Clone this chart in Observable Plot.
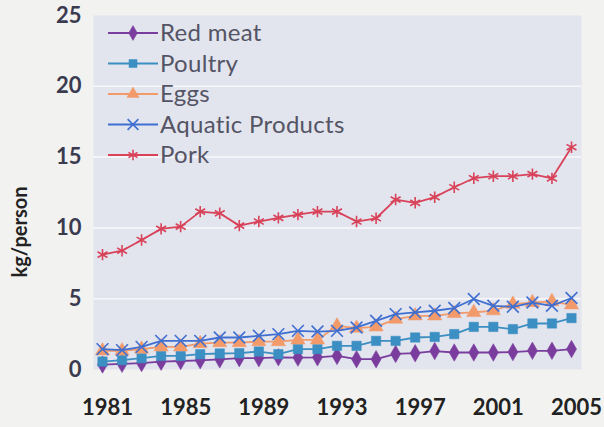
<!DOCTYPE html>
<html><head><meta charset="utf-8">
<script src="https://cdn.jsdelivr.net/npm/d3@7"></script>
<script src="https://cdn.jsdelivr.net/npm/@observablehq/plot@0.6"></script>
<style>
body{margin:0;background:#f2f2f1;}
#chart svg{display:block;}
</style>
</head><body><div id="chart"></div>
<script>
const years = [1981,1982,1983,1984,1985,1986,1987,1988,1989,1990,1991,1992,1993,1994,1995,1996,1997,1998,1999,2000,2001,2002,2003,2004,2005];
const redMeat = [0.35,0.4,0.45,0.55,0.6,0.65,0.72,0.8,0.8,0.86,0.84,0.86,0.96,0.73,0.73,1.1,1.15,1.3,1.2,1.2,1.2,1.23,1.32,1.32,1.44];
const poultry = [0.56,0.66,0.8,0.96,0.96,1.08,1.13,1.15,1.27,1.08,1.44,1.44,1.67,1.67,2.02,2.02,2.26,2.3,2.5,3.01,3.01,2.85,3.25,3.25,3.63];
const eggs = [1.32,1.32,1.44,1.6,1.6,1.83,1.9,1.9,1.97,1.97,2.09,2.09,3.08,2.92,3.01,3.56,3.79,3.79,3.96,4.03,4.15,4.62,4.73,4.8,4.57];
const aquatic = [1.44,1.37,1.6,2.02,2.02,2.02,2.26,2.26,2.38,2.5,2.73,2.68,2.73,2.97,3.44,3.91,4.03,4.15,4.34,4.98,4.5,4.43,4.73,4.5,5.05];
const pork = [8.11,8.39,9.15,9.93,10.09,11.15,11.03,10.16,10.45,10.71,10.94,11.15,11.15,10.45,10.68,12.0,11.77,12.17,12.87,13.51,13.65,13.65,13.8,13.5,15.7];

const seriesNames = ["Red meat","Poultry","Eggs","Aquatic Products","Pork"];
const seriesValues = [redMeat, poultry, eggs, aquatic, pork];
const seriesColors = ["#7a3d9e","#3b8fc2","#f29a6a","#3f6fd0","#d8435a"];
const seriesSymbols = ["diamond","square","triangle","times","asterisk"];
const xTicks = [1981,1985,1989,1993,1997,2001,2005];
const yTicks = [0,5,10,15,20,25];
const gridValues = [5,10,15,20];
const yLabel = "kg/person";

const rows = seriesNames.flatMap((name, i) => years.map((year, j) => ({series: name, year, value: seriesValues[i][j]})));

const strokeSyms = new Set(["times","asterisk"]);
const seriesMarks = seriesNames.flatMap((name, i) => {
  const data = rows.filter(r => r.series === name);
  const stroked = strokeSyms.has(seriesSymbols[i]);
  return [
    Plot.lineY(data, {x: "year", y: "value", stroke: seriesColors[i], strokeWidth: 1.8}),
    Plot.dot(data, {x: "year", y: "value", symbol: () => seriesSymbols[i], r: stroked ? 5.4 : 5.3,
      fill: stroked ? "none" : seriesColors[i], stroke: seriesColors[i], strokeWidth: stroked ? 1.6 : 0.5})
  ];
});

const chart = Plot.plot({
  width: 604, height: 427,
  marginLeft: 93, marginRight: 23, marginTop: 15, marginBottom: 58,
  style: {background: "transparent", fontFamily: "Lato, sans-serif"},
  x: {domain: [1981, 2005], insetLeft: 9, insetRight: 10},
  y: {domain: [0, 25]},
  symbol: {type: "identity"},
  marks: [
    Plot.frame({fill: "#e2e4ee", stroke: null}),
    Plot.ruleY(gridValues, {stroke: "#f8f8fb", strokeWidth: 1.5}),
    Plot.axisY(yTicks, {tickSize: 0, tickPadding: 12, fontSize: 22, fontWeight: "bold", fill: "#3b3b4f", label: null}),
    Plot.axisX(xTicks, {tickSize: 0, tickPadding: 30, fontSize: 22, fontWeight: "bold", fill: "#222",
      tickFormat: d => String(d), dx: 5, label: null}),
    ...seriesMarks
  ]
});
document.getElementById("chart").append(chart);

const svg = d3.select(chart);
// y-axis title
svg.append("text").attr("transform", "translate(20,232) rotate(-90)")
  .attr("text-anchor", "middle").attr("dy", "0.35em")
  .attr("font-family", "Lato, sans-serif").attr("font-size", 20).attr("font-weight", "bold")
  .attr("fill", "#222").text(yLabel);

// legend inside the plot area
const symMap = {diamond: d3.symbolDiamond, square: d3.symbolSquare, triangle: d3.symbolTriangle, times: d3.symbolTimes, asterisk: d3.symbolAsterisk};
const lg = svg.append("g").attr("font-family", "Lato, sans-serif").attr("font-size", 24).attr("text-anchor", "start");
seriesNames.forEach((name, i) => {
  const y = 33 + i * 30.5;
  lg.append("line").attr("x1", 108).attr("x2", 158).attr("y1", y).attr("y2", y)
    .attr("stroke", seriesColors[i]).attr("stroke-width", 1.8);
  const stroked = strokeSyms.has(seriesSymbols[i]);
  lg.append("path").attr("d", d3.symbol(symMap[seriesSymbols[i]], stroked ? 78 : 64)())
    .attr("transform", `translate(133,${y})`)
    .attr("fill", stroked ? "none" : seriesColors[i]).attr("stroke", seriesColors[i]).attr("stroke-width", stroked ? 1.6 : 0.5);
  lg.append("text").attr("x", 160).attr("y", y).attr("dy", "0.35em").attr("fill", "#545464")
    .attr("letter-spacing", "0.3px").text(name);
});
</script>
</body></html>
